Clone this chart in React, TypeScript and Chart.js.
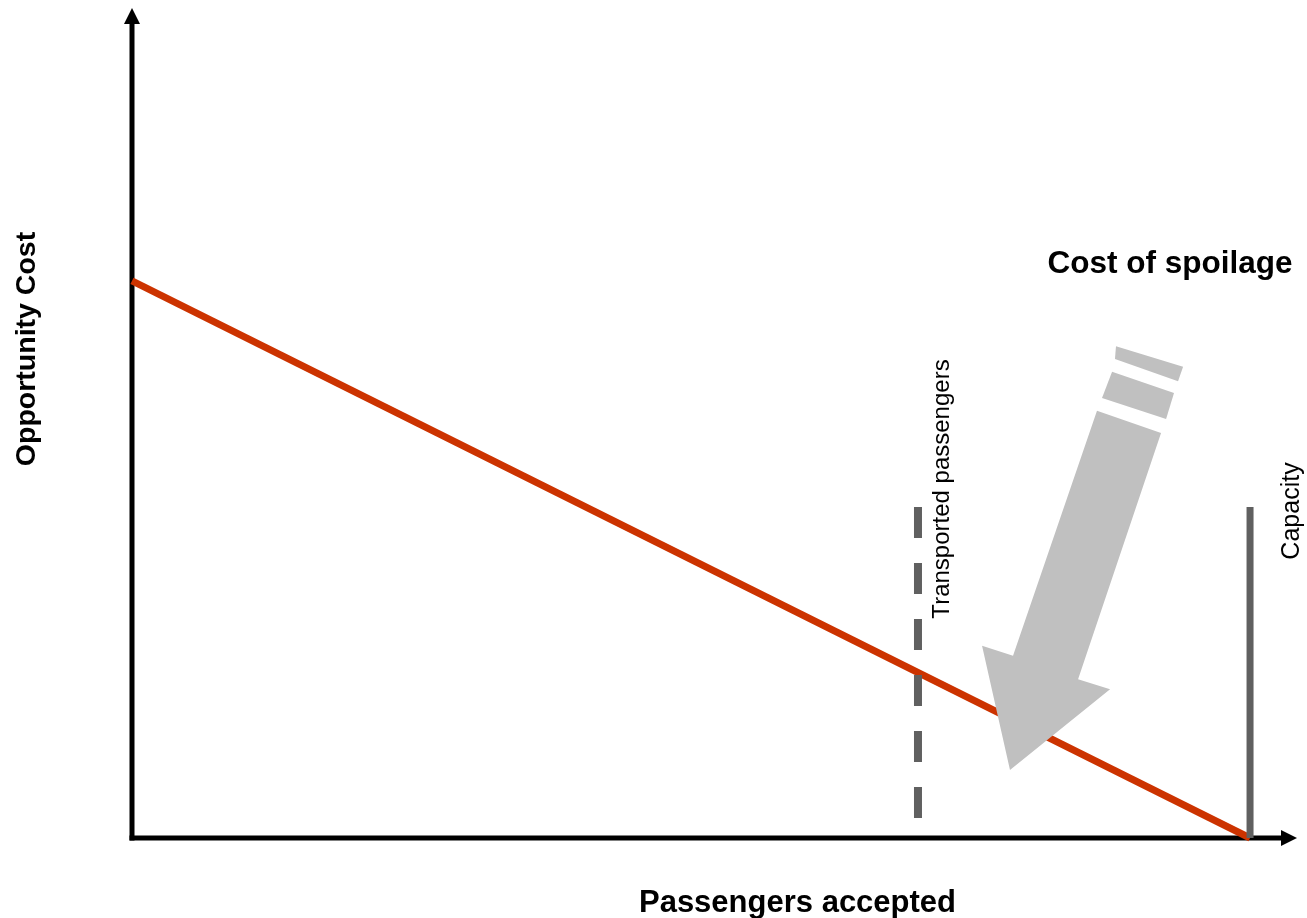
import React, { useEffect, useRef } from "react";
import { Chart, registerables } from "chart.js";

Chart.register(...registerables);

// Axis ranges (data units)
const X_MAX = 104.2;
const Y_MAX = 14.9;

// Opportunity cost line: from full cost at 0 passengers down to 0 at capacity
const costLineX = [0, 100];
const costLineY = [10, 0];

// Transported passengers (dashed) and capacity (solid) markers
const transportedX = 70.3;
const transportedY = [5.94, 0.36];
const capacityX = 100;
const capacityY = [5.94, 0];

// "Cost of spoilage" arrow polygons (data units)
const arrowBodyX = [86.31, 92.04, 84.62, 87.48, 78.53, 76.03, 78.8, 86.31];
const arrowBodyY = [7.67, 7.27, 2.85, 2.67, 1.22, 3.45, 3.27, 7.67];
const stripe2X = [87.66, 93.2, 92.49, 86.76, 87.66];
const stripe2Y = [8.37, 7.99, 7.52, 7.9, 8.37];
const stripe1X = [88.01, 94.01, 93.56, 87.92, 88.01];
const stripe1Y = [8.83, 8.46, 8.2, 8.6, 8.83];

// Texts
const xTitle = "Passengers accepted";
const yTitle = "Opportunity Cost";
const arrowLabel = "Cost of spoilage";
const transportedLabel = "Transported passengers";
const capacityLabel = "Capacity";

const zip = (xs: number[], ys: number[]) => xs.map((x, i) => ({ x, y: ys[i] }));

const FONT = '"Liberation Sans", Arial, sans-serif';

const decorPlugin = {
  id: "decor",
  beforeDatasetsDraw(chart: any) {
    const { ctx, chartArea, scales } = chart;
    const x0 = scales.x.getPixelForValue(0);
    const y0 = scales.y.getPixelForValue(0);
    const top = chartArea.top;
    const right = chartArea.right;
    ctx.save();
    ctx.strokeStyle = "#000";
    ctx.fillStyle = "#000";
    ctx.lineWidth = 5;
    ctx.lineCap = "butt";
    // y axis
    ctx.beginPath();
    ctx.moveTo(x0, y0 + 2.5);
    ctx.lineTo(x0, top + 14);
    ctx.stroke();
    ctx.beginPath();
    ctx.moveTo(x0, top);
    ctx.lineTo(x0 - 8, top + 16);
    ctx.lineTo(x0 + 8, top + 16);
    ctx.closePath();
    ctx.fill();
    // x axis
    ctx.beginPath();
    ctx.moveTo(x0 - 2.5, y0);
    ctx.lineTo(right - 15, y0);
    ctx.stroke();
    ctx.beginPath();
    ctx.moveTo(right, y0);
    ctx.lineTo(right - 16, y0 - 8);
    ctx.lineTo(right - 16, y0 + 8);
    ctx.closePath();
    ctx.fill();
    ctx.restore();
  },
  afterDraw(chart: any) {
    const { ctx, scales } = chart;
    const sx = scales.x;
    ctx.save();
    ctx.fillStyle = "#000";
    ctx.textAlign = "center";
    ctx.textBaseline = "alphabetic";
    // x title
    ctx.font = `bold 31px ${FONT}`;
    ctx.fillText(xTitle, 797.5, 912);
    // arrow label
    ctx.font = `bold 31.5px ${FONT}`;
    ctx.fillText(arrowLabel, 1170, 273);
    // y title
    ctx.save();
    ctx.translate(35, 349);
    ctx.rotate(-Math.PI / 2);
    ctx.font = `bold 28.5px ${FONT}`;
    ctx.fillText(yTitle, 0, 0);
    ctx.restore();
    // transported label
    ctx.font = `24px ${FONT}`;
    ctx.save();
    ctx.translate(sx.getPixelForValue(transportedX) + 31, 489);
    ctx.rotate(-Math.PI / 2);
    ctx.fillText(transportedLabel, 0, 0);
    ctx.restore();
    // capacity label
    ctx.font = `25px ${FONT}`;
    ctx.save();
    ctx.translate(sx.getPixelForValue(capacityX) + 49, 511);
    ctx.rotate(-Math.PI / 2);
    ctx.fillText(capacityLabel, 0, 0);
    ctx.restore();
    ctx.restore();
  },
};

export default function App() {
  const ref = useRef<HTMLCanvasElement>(null);
  useEffect(() => {
    if (!ref.current) return;
    const chart = new Chart(ref.current, {
      type: "scatter",
      data: {
        datasets: [
          {
            label: "Opportunity cost",
            data: zip(costLineX, costLineY),
            showLine: true,
            borderColor: "#CC3300",
            borderWidth: 7,
            pointRadius: 0,
            fill: false,
            clip: false,
            order: 5,
          } as any,
          {
            label: "Transported passengers",
            data: zip([transportedX, transportedX], transportedY),
            showLine: true,
            borderColor: "#606060",
            borderWidth: 8,
            borderDash: [31, 25],
            borderCapStyle: "butt",
            pointRadius: 0,
            fill: false,
            clip: false,
            order: 4,
          } as any,
          {
            label: "Capacity",
            data: zip([capacityX, capacityX], capacityY),
            showLine: true,
            borderColor: "#606060",
            borderWidth: 7,
            borderCapStyle: "butt",
            pointRadius: 0,
            fill: false,
            clip: false,
            order: 3,
          } as any,
          {
            label: "arrow body",
            data: zip(arrowBodyX, arrowBodyY),
            showLine: true,
            borderWidth: 0,
            borderColor: "rgba(0,0,0,0)",
            backgroundColor: "#C0C0C0",
            pointRadius: 0,
            fill: "shape",
            clip: false,
            tension: 0,
            order: 1,
          } as any,
          {
            label: "arrow stripe 2",
            data: zip(stripe2X, stripe2Y),
            showLine: true,
            borderWidth: 0,
            borderColor: "rgba(0,0,0,0)",
            backgroundColor: "#C0C0C0",
            pointRadius: 0,
            fill: "shape",
            clip: false,
            order: 1,
          } as any,
          {
            label: "arrow stripe 1",
            data: zip(stripe1X, stripe1Y),
            showLine: true,
            borderWidth: 0,
            borderColor: "rgba(0,0,0,0)",
            backgroundColor: "#C0C0C0",
            pointRadius: 0,
            fill: "shape",
            clip: false,
            order: 1,
          } as any,
        ],
      },
      options: {
        responsive: false,
        animation: false,
        devicePixelRatio: 1,
        layout: { padding: { left: 132, right: 10, top: 8, bottom: 80 } },
        plugins: {
          legend: { display: false },
          tooltip: { enabled: false },
        },
        scales: {
          x: { type: "linear", min: 0, max: X_MAX, display: false },
          y: { type: "linear", min: 0, max: Y_MAX, display: false },
        },
      },
      plugins: [decorPlugin],
    });
    return () => chart.destroy();
  }, []);
  return (
    <div style={{ position: "absolute", left: 0, top: 0, width: 1307, height: 918, background: "#fff" }}>
      <canvas ref={ref} width={1307} height={918} />
    </div>
  );
}
